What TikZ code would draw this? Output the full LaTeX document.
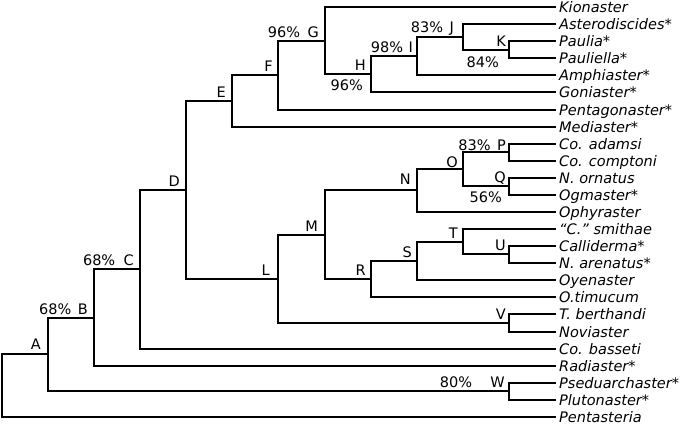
\documentclass[tikz,border=0pt]{standalone}
\usepackage{fontspec}
\setmainfont{DejaVu Sans}
\usetikzlibrary{calc}
\begin{document}
\begin{tikzpicture}[x=1bp,y=-1bp,
  br/.style={line width=1.8bp, black, line cap=rect},
  leaf/.style={anchor=west, inner xsep=4bp, inner ysep=0pt, text height=10bp, text depth=0pt,
    font=\fontsize{14.5bp}{16bp}\selectfont\itshape},
  lab/.style={anchor=base east, inner sep=0pt, font=\fontsize{14.5bp}{16bp}\selectfont},
  pctb/.style={anchor=north east, inner sep=0pt, font=\fontsize{14.5bp}{16bp}\selectfont}]
\useasboundingbox (0,0) rectangle (685,425);
% leaves
\node[leaf] (l0)  at (555,7)   {Kionaster};
\node[leaf] (l1)  at (555,24)  {Asterodiscides*};
\node[leaf] (l2)  at (555,41)  {Paulia*};
\node[leaf] (l3)  at (555,58)  {Pauliella*};
\node[leaf] (l4)  at (555,75)  {Amphiaster*};
\node[leaf] (l5)  at (555,92)  {Goniaster*};
\node[leaf] (l6)  at (555,110) {Pentagonaster*};
\node[leaf] (l7)  at (555,127) {Mediaster*};
\node[leaf] (l8)  at (555,144) {Co. adamsi};
\node[leaf] (l9)  at (555,161) {Co. comptoni};
\node[leaf] (l10) at (555,178) {N. ornatus};
\node[leaf] (l11) at (555,195) {Ogmaster*};
\node[leaf] (l12) at (555,212) {Ophyraster};
\node[leaf] (l13) at (555,229) {“C.” smithae};
\node[leaf] (l14) at (555,246) {Calliderma*};
\node[leaf] (l15) at (555,263) {N. arenatus*};
\node[leaf] (l16) at (555,280) {Oyenaster};
\node[leaf] (l17) at (555,297) {O.timucum};
\node[leaf] (l18) at (555,314) {T. berthandi};
\node[leaf] (l19) at (555,332) {Noviaster};
\node[leaf] (l20) at (555,349) {Co. basseti};
\node[leaf] (l21) at (555,366) {Radiaster*};
\node[leaf] (l22) at (555,383) {Pseduarchaster*};
\node[leaf] (l23) at (555,400) {Plutonaster*};
\node[leaf] (l24) at (555,417) {Pentasteria};
% internal nodes
\coordinate (nK) at (509,50);
\coordinate (nJ) at (463,37);
\coordinate (nI) at (417,56);
\coordinate (nH) at (371,74);
\coordinate (nG) at (325,41);
\coordinate (nF) at (278,75);
\coordinate (nE) at (232,101);
\coordinate (nP) at (509,152);
\coordinate (nQ) at (509,186);
\coordinate (nO) at (463,169);
\coordinate (nN) at (417,190);
\coordinate (nU) at (509,254);
\coordinate (nT) at (463,242);
\coordinate (nS) at (417,261);
\coordinate (nR) at (371,279);
\coordinate (nM) at (325,235);
\coordinate (nV) at (509,323);
\coordinate (nL) at (278,279);
\coordinate (nD) at (186,190);
\coordinate (nC) at (140,269);
\coordinate (nW) at (509,391);
\coordinate (nB) at (94,318);
\coordinate (nA) at (48,354);
\coordinate (nRoot) at (2,386);
% branches
\draw[br] (nK) |- (l2.west);  \draw[br] (nK) |- (l3.west);
\draw[br] (nJ) |- (l1.west);  \draw[br] (nJ) |- (nK);
\draw[br] (nI) |- (nJ);       \draw[br] (nI) |- (l4.west);
\draw[br] (nH) |- (nI);       \draw[br] (nH) |- (l5.west);
\draw[br] (nG) |- (l0.west);  \draw[br] (nG) |- (nH);
\draw[br] (nF) |- (nG);       \draw[br] (nF) |- (l6.west);
\draw[br] (nE) |- (nF);       \draw[br] (nE) |- (l7.west);
\draw[br] (nP) |- (l8.west);  \draw[br] (nP) |- (l9.west);
\draw[br] (nQ) |- (l10.west); \draw[br] (nQ) |- (l11.west);
\draw[br] (nO) |- (nP);       \draw[br] (nO) |- (nQ);
\draw[br] (nN) |- (nO);       \draw[br] (nN) |- (l12.west);
\draw[br] (nU) |- (l14.west); \draw[br] (nU) |- (l15.west);
\draw[br] (nT) |- (l13.west); \draw[br] (nT) |- (nU);
\draw[br] (nS) |- (nT);       \draw[br] (nS) |- (l16.west);
\draw[br] (nR) |- (nS);       \draw[br] (nR) |- (l17.west);
\draw[br] (nM) |- (nN);       \draw[br] (nM) |- (nR);
\draw[br] (nV) |- (l18.west); \draw[br] (nV) |- (l19.west);
\draw[br] (nL) |- (nM);       \draw[br] (nL) |- (nV);
\draw[br] (nD) |- (nE);       \draw[br] (nD) |- (nL);
\draw[br] (nC) |- (nD);       \draw[br] (nC) |- (l20.west);
\draw[br] (nW) |- (l22.west); \draw[br] (nW) |- (l23.west);
\draw[br] (nB) |- (nC);       \draw[br] (nB) |- (l21.west);
\draw[br] (nA) |- (nB);       \draw[br] (nA) |- (nW);
\draw[br] (nRoot) |- (nA);    \draw[br] (nRoot) |- (l24.west);
% labels
\node[lab] (tA) at ($(nA)+(-7,-5)$) {A};
\node[lab] (tB) at ($(nB)+(-6,-4)$) {B};
\node[lab] at ($(tB.base west)+(-6,0)$) {68\%};
\node[lab] (tC) at ($(nC)+(-6,-4)$) {C};
\node[lab] at ($(tC.base west)+(-8,0)$) {68\%};
\node[lab] (tD) at ($(nD)+(-6,-4)$) {D};
\node[lab] (tE) at ($(nE)+(-6,-4)$) {E};
\node[lab] (tF) at ($(nF)+(-5,-4)$) {F};
\node[lab] (tG) at ($(nG)+(-6,-4)$) {G};
\node[lab] at ($(tG.base west)+(-7,0)$) {96\%};
\node[lab] (tH) at ($(nH)+(-5,-4)$) {H};
\node[pctb] at ($(nH)+(-8,6)$) {96\%};
\node[lab] (tI) at ($(nI)+(-4,-4)$) {I};
\node[lab] at ($(tI.base west)+(-5,0)$) {98\%};
\node[lab] (tJ) at ($(nJ)+(-9,-5)$) {J};
\node[lab] at ($(tJ.base west)+(-6,0)$) {83\%};
\node[lab] (tK) at ($(nK)+(-3,-4)$) {K};
\node[pctb] at ($(nK)+(-10,7)$) {84\%};
\node[lab] (tL) at ($(nL)+(-8,-4)$) {L};
\node[lab] (tM) at ($(nM)+(-7,-4)$) {M};
\node[lab] (tN) at ($(nN)+(-6,-6)$) {N};
\node[lab] (tO) at ($(nO)+(-5,-2)$) {O};
\node[lab] (tP) at ($(nP)+(-3,-2)$) {P};
\node[lab] at ($(tP.base west)+(-6,0)$) {83\%};
\node[lab] (tQ) at ($(nQ)+(-3,-4)$) {Q};
\node[pctb] at ($(nQ)+(-7,6)$) {56\%};
\node[lab] (tR) at ($(nR)+(-5,-4)$) {R};
\node[lab] (tS) at ($(nS)+(-5,-4)$) {S};
\node[lab] (tT) at ($(nT)+(-5,-4)$) {T};
\node[lab] (tU) at ($(nU)+(-3,-4)$) {U};
\node[lab] (tV) at ($(nV)+(-3,-4)$) {V};
\node[lab] (tW) at ($(nW)+(-4,-4)$) {W};
\node[lab] at ($(tW.base west)+(-18,0)$) {80\%};
\end{tikzpicture}
\end{document}
